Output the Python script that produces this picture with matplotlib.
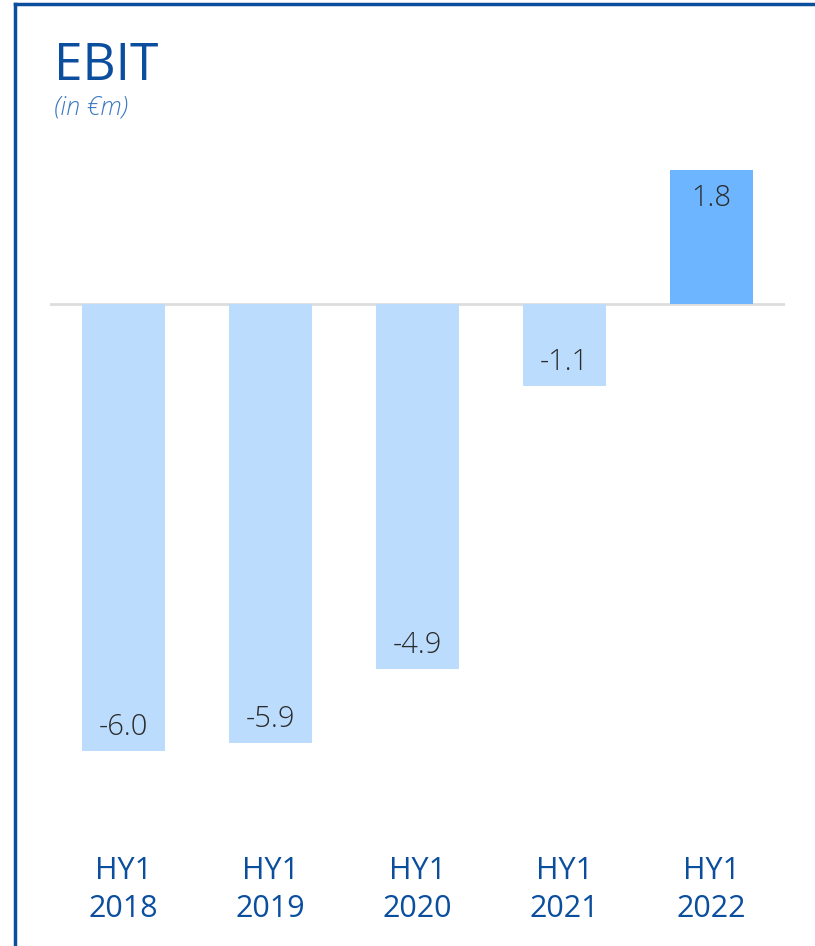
import matplotlib.pyplot as plt
from matplotlib.lines import Line2D

# data
periods = ["HY1\n2018", "HY1\n2019", "HY1\n2020", "HY1\n2021", "HY1\n2022"]
ebit = [-6.0, -5.9, -4.9, -1.1, 1.8]
bar_colors = ["#bbdcfd", "#bbdcfd", "#bbdcfd", "#bbdcfd", "#6db5ff"]

navy = "#0b4e9e"
plt.rcParams["font.family"] = ["Open Sans", "DejaVu Sans"]

W, H = 815, 946
fig = plt.figure(figsize=(W / 100, H / 100), dpi=100)

# axes placed in pixel coords: x 50..785, y 130..770
ax = fig.add_axes([50 / W, 1 - 770 / H, 735 / W, 640 / H])
x = range(len(ebit))
bars = ax.bar(x, ebit, width=0.57, color=bar_colors, zorder=2)
ax.axhline(0, color="#dddddd", lw=2, zorder=1)

ax.set_xlim(-0.5, 4.5)
ax.set_ylim(-6.26, 2.34)

for b, v in zip(bars, ebit):
    cx = b.get_x() + b.get_width() / 2
    off = 0.32 if v < 0 else -0.38
    ax.text(cx, v + off, f"{v:.1f}", ha="center", va="center",
            fontsize=21, color="#2b2b2b", fontweight="light", zorder=3)

ax.set_xticks(list(x))
ax.set_xticklabels(periods, fontsize=22, color=navy, linespacing=1.35)
ax.tick_params(axis="x", length=0, pad=62)
ax.set_yticks([])
for s in ax.spines.values():
    s.set_visible(False)

# title
fig.text(54 / W, 1 - 80 / H, "EBIT", fontsize=37, color=navy, va="baseline")
fig.text(54 / W, 1 - 115 / H, "(in €m)", fontsize=18, color="#3a78c0",
         style="italic", fontweight="light", va="baseline")

# frame lines
fig.add_artist(Line2D([15 / W, 15 / W], [0, 1 - 4 / H], color=navy, lw=2.5,
                      transform=fig.transFigure))
fig.add_artist(Line2D([15 / W, 1], [1 - 4 / H, 1 - 4 / H], color=navy, lw=2.5,
                      transform=fig.transFigure))

fig.savefig("out.png", dpi=100)
